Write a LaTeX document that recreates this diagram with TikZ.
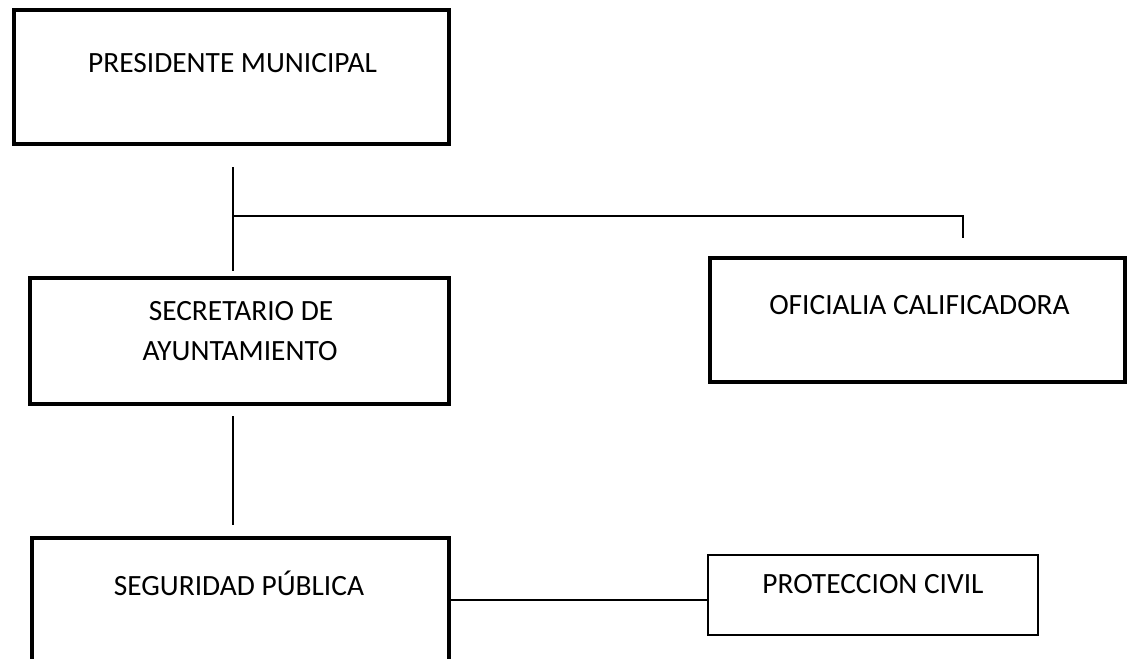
\documentclass[tikz,border=0pt]{standalone}
\usepackage{fontspec}
\setmainfont{Carlito}
\usepackage{xcolor}
\usetikzlibrary{positioning}

\tikzset{
    caja/.style={draw, line width=2pt, rectangle, inner sep=0pt},
    cajita/.style={draw, line width=0.6pt, rectangle, inner sep=0pt},
    rotulo/.style={anchor=base, inner sep=0pt, font=\fontsize{14.7}{20}\selectfont},
    linea/.style={line width=0.75pt}
}

\begin{document}
\begin{tikzpicture}[x=0.5pt, y=-0.5pt]
    \clip (0,0) rectangle (1136,659);

    \node[caja, minimum width=217.5pt, minimum height=67pt] (pres) at (231.5,77) {};
    \node[caja, minimum width=209.5pt, minimum height=63pt] (secr) at (239.5,341) {};
    \node[caja, minimum width=207.5pt, minimum height=62pt] (ofic) at (917.5,320) {};
    \node[caja, minimum width=208.5pt, minimum height=81pt] (segu) at (240.5,619) {};
    \node[cajita, minimum width=165pt, minimum height=40pt] (prot) at (873,595) {};

    \node[rotulo] (presT) at (232.5,72) {PRESIDENTE MUNICIPAL};
    \node[rotulo] (secrT) at (241,320) {SECRETARIO DE};
    \node[rotulo] (secrT2) at (240,360) {AYUNTAMIENTO};
    \node[rotulo] (oficT) at (919.5,314) {OFICIALIA CALIFICADORA};
    \node[rotulo] (seguT) at (239,595) {SEGURIDAD PÚBLICA};
    \node[rotulo] (protT) at (873,593) {PROTECCION CIVIL};

    \coordinate (p1) at (233,167);
    \coordinate (p2) at (233,271);
    \coordinate (q1) at (233,216);
    \coordinate (q2) at (963,216);
    \coordinate (q3) at (963,238);
    \coordinate (s1) at (233,416);
    \coordinate (s2) at (233,525);

    \draw[linea] (p1) -- (p2);
    \draw[linea] (q1) -- (q2) -- (q3);
    \draw[linea] (s1) -- (s2);
    \draw[linea] (segu.east |- 0,600) -- (prot.west |- 0,600);
\end{tikzpicture}
\end{document}
